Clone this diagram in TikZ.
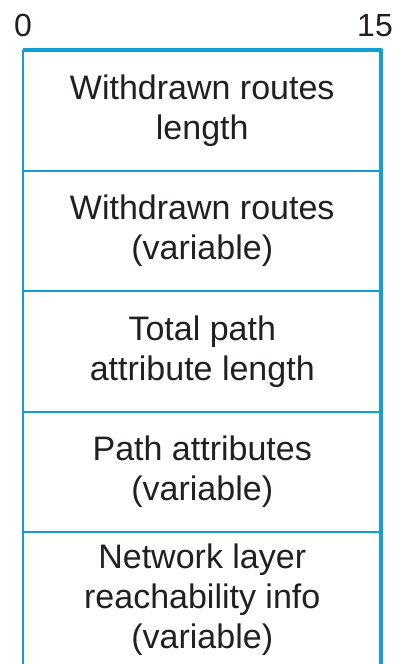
\documentclass[tikz,border=0pt]{standalone}
\usepackage{fontspec}
\setmainfont{Liberation Sans}
\usetikzlibrary{positioning}
\definecolor{fieldblue}{RGB}{16,160,214}
\definecolor{inkgray}{RGB}{35,31,32}

\begin{document}
\begin{tikzpicture}[x=1bp, y=-1bp,
    field/.style={minimum width=357.5bp, minimum height=120bp, inner sep=0pt,
        align=center, text=inkgray, font=\fontsize{34bp}{40bp}\selectfont},
    bitlabel/.style={inner sep=0pt, text=inkgray, font=\fontsize{32bp}{38bp}\selectfont},
    thinline/.style={draw=fieldblue, line width=2bp},
    thickline/.style={draw=fieldblue, line width=4bp, line join=round}]
    \useasboundingbox (0,0) rectangle (399,664);

    % Bit numbers
    \node[bitlabel, anchor=base] (bit0) at (23,37) {0};
    \node[bitlabel, anchor=base] (bit15) at (375,37) {15};

    % Fields
    \node[field, anchor=north] (wlen) at (202.25,50.5) {Withdrawn routes\\length};
    \node[field, below=0pt of wlen] (wroutes) {Withdrawn routes\\(variable)};
    \node[field, below=0pt of wroutes] (tlen) {Total path\\attribute length};
    \node[field, below=0pt of tlen] (pattr) {Path attributes\\(variable)};
    \node[field, below=0pt of pattr, minimum height=134bp] (nlri) {Network layer\\reachability info\\(variable)};

    % Separators
    \foreach \f in {wlen, wroutes, tlen, pattr} {
        \draw[thinline] (\f.south west) -- (\f.south east);
    }

    % Outline
    \draw[thinline] (wlen.north west) -- (nlri.south west);
    \draw[thickline] (wlen.north west) -- (wlen.north east) -- (nlri.south east);

\end{tikzpicture}
\end{document}
